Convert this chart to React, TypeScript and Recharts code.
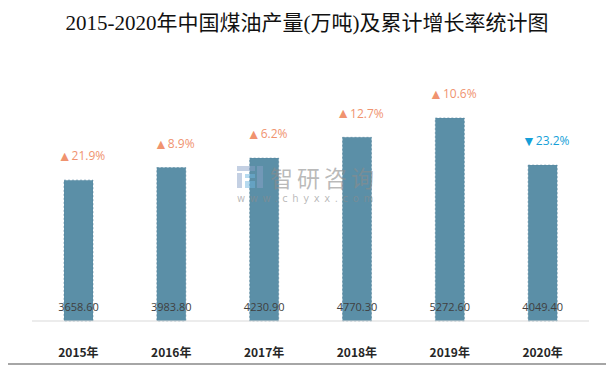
import { Bar, BarChart, LabelList, XAxis, YAxis } from 'recharts'

const years = ['2015年', '2016年', '2017年', '2018年', '2019年', '2020年']
const output = [3658.6, 3983.8, 4230.9, 4770.3, 5272.6, 4049.4]
const growth = [21.9, 8.9, 6.2, 12.7, 10.6, -23.2]

const data = years.map((year, i) => ({ year, output: output[i], growth: growth[i] }))

const UP = '#f0936f'
const DOWN = '#169fd8'
const MARK = 'rgba(140,140,140,0.6)'
const FRAME = '#a6a6a6'

const YearTick = ({ x, y, payload }: any) => (
  <text
    x={x}
    y={y + 25}
    textAnchor="middle"
    dominantBaseline="middle"
    fontSize={12}
    fontWeight="bold"
    fill="#262626"
    fontFamily="'Noto Sans CJK SC', sans-serif"
  >
    {payload.value}
  </text>
)

const ValueLabel = ({ x, y, width, height, value }: any) => (
  <text
    x={x + width / 2}
    y={y + height - 13}
    textAnchor="middle"
    dominantBaseline="middle"
    fontSize={11}
    fill="#404040"
    fontFamily="'Open Sans', sans-serif"
  >
    {Number(value).toFixed(2)}
  </text>
)

const GrowthLabel = ({ x, y, width, value }: any) => {
  const up = value >= 0
  return (
    <text
      x={x + width / 2 + 3}
      y={y - 23}
      textAnchor="middle"
      dominantBaseline="middle"
      fontSize={12}
      fill={up ? UP : DOWN}
      fontFamily="'Open Sans', sans-serif"
    >
      <tspan fontSize={14}>{up ? '▲' : '▼'}</tspan>
      {Math.abs(value).toFixed(1) + '%'}
    </text>
  )
}

export default function App() {
  return (
    <div style={{ marginLeft: -8, marginTop: -8, width: 614, height: 369, position: 'relative', background: '#fff' }}>
      <div
        style={{
          position: 'absolute',
          top: 6,
          width: 614,
          textAlign: 'center',
          fontSize: 21,
          color: '#111',
          fontFamily: "'Liberation Serif', 'Noto Sans CJK SC', serif",
        }}
      >
        2015-2020年中国煤油产量(万吨)及累计增长率统计图
      </div>
      <div style={{ position: 'absolute', left: 0, top: 0 }}>
        <BarChart
          width={614}
          height={369}
          data={data}
          margin={{ top: 90, right: 25, bottom: 18, left: 32 }}
          barSize={29}
        >
          <XAxis
            dataKey="year"
            axisLine={{ stroke: '#d9d9d9' }}
            tickLine={false}
            tick={<YearTick />}
            height={30}
            interval={0}
          />
          <YAxis hide domain={[0, 6000]} />
          <Bar
            dataKey="output"
            fill="#5b8fa7"
            stroke="#52829b"
            strokeDasharray="2 2"
            strokeWidth={0.6}
            isAnimationActive={false}
          >
            <LabelList dataKey="output" content={<ValueLabel />} />
            <LabelList dataKey="growth" content={<GrowthLabel />} />
          </Bar>
        </BarChart>
      </div>
      <div
        style={{
          position: 'absolute',
          left: 270,
          top: 164,
          fontSize: 23,
          lineHeight: '26px',
          color: MARK,
          fontFamily: "'Noto Sans CJK SC', sans-serif",
          letterSpacing: 4,
        }}
      >
        智研咨询
      </div>
      <div
        style={{
          position: 'absolute',
          left: 237,
          top: 193,
          fontSize: 10,
          lineHeight: '11px',
          color: MARK,
          fontFamily: "'DejaVu Sans', sans-serif",
          letterSpacing: 4.6,
        }}
      >
        www.chyxx.com
      </div>
      <div style={{ position: 'absolute', left: 237, top: 166, width: 26, height: 22, opacity: 0.5 }}>
        <div style={{ position: 'absolute', left: 0, top: 0, width: 18, height: 5, background: '#8aa2c8' }} />
        <div style={{ position: 'absolute', left: 0, top: 7, width: 5, height: 15, background: '#8aa2c8' }} />
        <div style={{ position: 'absolute', left: 8, top: 8, width: 10, height: 4, background: '#6fb6e0' }} />
        <div style={{ position: 'absolute', left: 8, top: 15, width: 10, height: 7, background: '#6fb6e0' }} />
        <div style={{ position: 'absolute', left: 20, top: 0, width: 6, height: 22, background: '#8aa2c8' }} />
      </div>
      <div style={{ position: 'absolute', left: 2, top: 2, width: 606, height: 2, background: FRAME }} />
      <div style={{ position: 'absolute', left: 2, top: 363, width: 606, height: 2, background: FRAME }} />
      <div style={{ position: 'absolute', left: 2, top: 2, width: 2, height: 363, background: FRAME }} />
      <div style={{ position: 'absolute', left: 606, top: 2, width: 2, height: 363, background: FRAME }} />
    </div>
  )
}
